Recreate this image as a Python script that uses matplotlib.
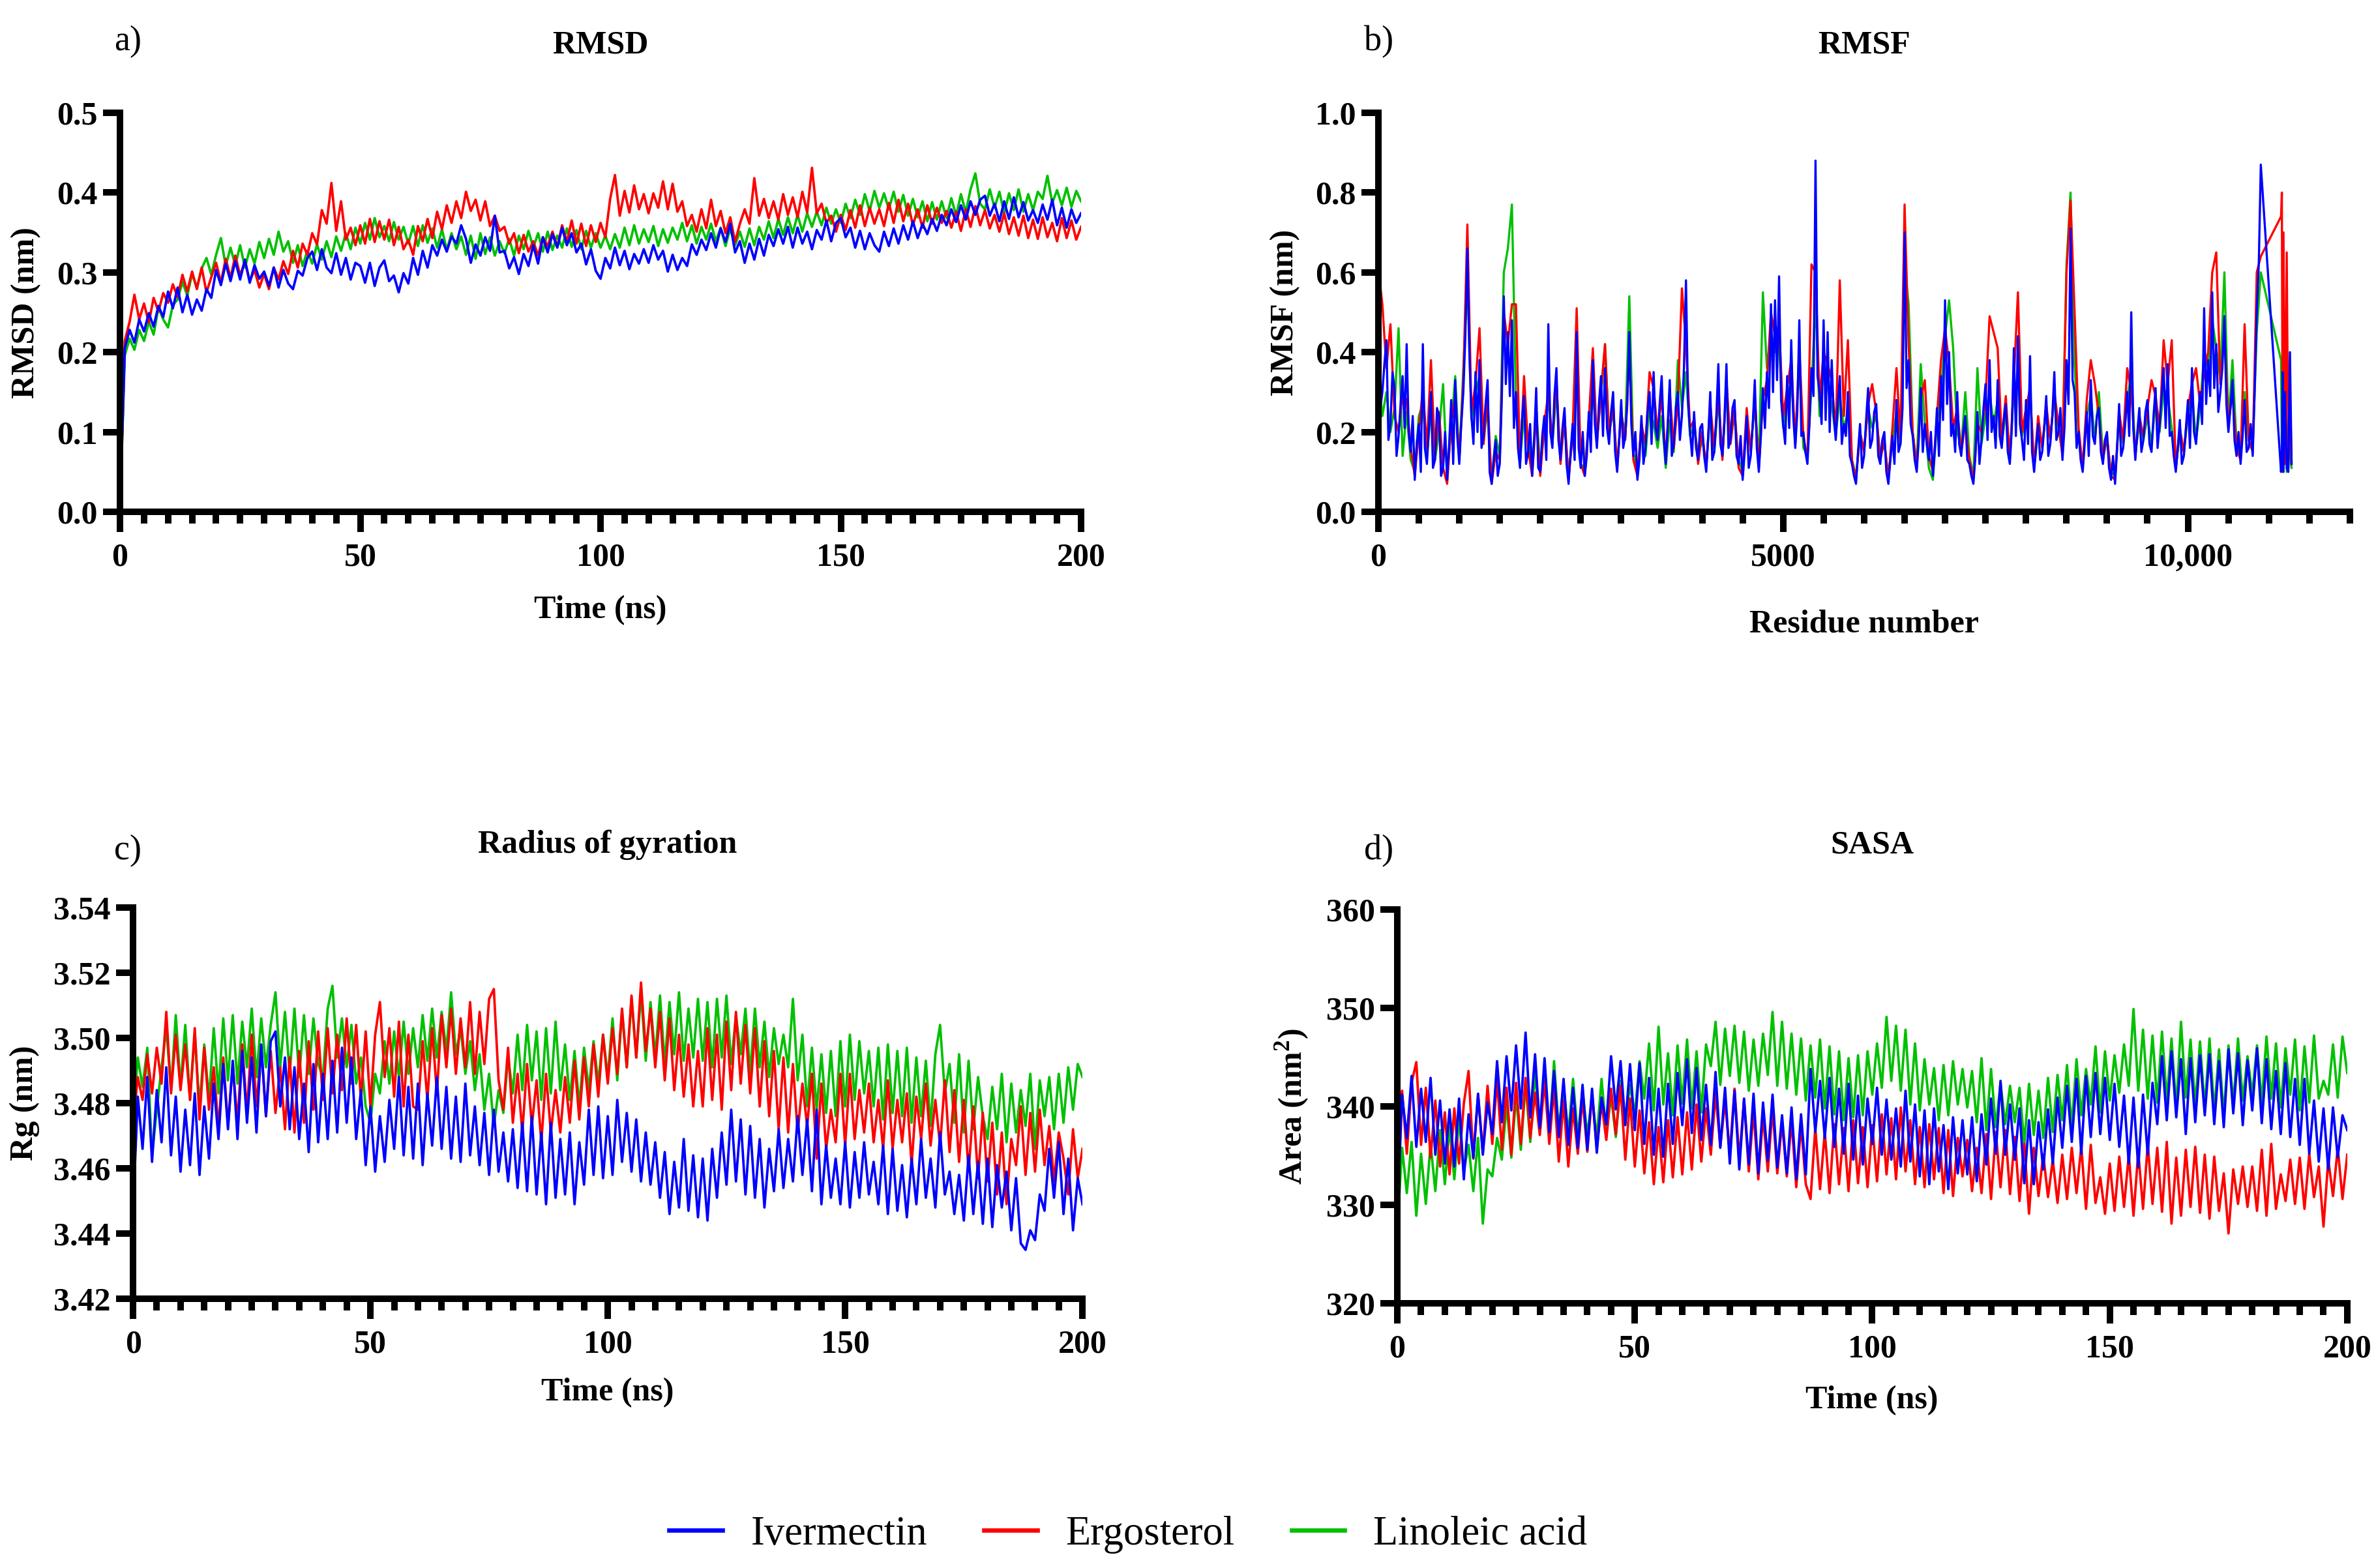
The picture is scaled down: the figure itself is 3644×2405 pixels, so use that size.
import numpy as np
import matplotlib.pyplot as plt
from matplotlib.lines import Line2D
from matplotlib.ticker import MultipleLocator, FixedLocator, FormatStrFormatter

plt.rcParams['font.family'] = ['Liberation Serif', 'DejaVu Serif']
plt.rcParams['font.weight'] = 'bold'
plt.rcParams['mathtext.fontset'] = 'custom'
plt.rcParams['mathtext.rm'] = 'Liberation Serif'
plt.rcParams['mathtext.bf'] = 'Liberation Serif:bold'

labels = ['Ivermectin', 'Ergosterol', 'Linoleic acid']
colors = ['#0000ff', '#ff0000', '#00c000']

# time axis, 1 ns sampling
time_ns = np.arange(0, 201)

# a) RMSD (nm)
rmsd_ivm = [0.000, 0.205, 0.228, 0.212, 0.241, 0.226, 0.249, 0.232, 0.258, 0.244,
            0.276, 0.255, 0.281, 0.250, 0.272, 0.247, 0.266, 0.252, 0.279, 0.268,
            0.303, 0.284, 0.311, 0.289, 0.314, 0.291, 0.316, 0.287, 0.309, 0.292,
            0.301, 0.283, 0.306, 0.281, 0.303, 0.286, 0.279, 0.302, 0.296, 0.318,
            0.326, 0.303, 0.329, 0.306, 0.299, 0.324, 0.297, 0.318, 0.291, 0.312,
            0.308, 0.287, 0.312, 0.283, 0.306, 0.315, 0.289, 0.296, 0.275, 0.299,
            0.286, 0.318, 0.297, 0.327, 0.306, 0.334, 0.321, 0.341, 0.326, 0.345,
            0.336, 0.359, 0.342, 0.312, 0.335, 0.321, 0.344, 0.327, 0.371, 0.325,
            0.327, 0.305, 0.319, 0.298, 0.323, 0.308, 0.334, 0.311, 0.344, 0.325,
            0.348, 0.331, 0.356, 0.334, 0.349, 0.325, 0.336, 0.310, 0.329, 0.302,
            0.292, 0.318, 0.305, 0.331, 0.309, 0.327, 0.304, 0.323, 0.311, 0.329,
            0.312, 0.334, 0.316, 0.327, 0.301, 0.322, 0.303, 0.318, 0.308, 0.335,
            0.322, 0.341, 0.328, 0.349, 0.331, 0.355, 0.338, 0.361, 0.325, 0.339,
            0.312, 0.336, 0.316, 0.342, 0.321, 0.347, 0.333, 0.354, 0.336, 0.357,
            0.331, 0.356, 0.336, 0.351, 0.329, 0.353, 0.341, 0.365, 0.339, 0.362,
            0.368, 0.344, 0.356, 0.331, 0.352, 0.329, 0.349, 0.334, 0.326, 0.351,
            0.333, 0.355, 0.336, 0.359, 0.341, 0.364, 0.343, 0.361, 0.348, 0.367,
            0.352, 0.372, 0.359, 0.379, 0.363, 0.384, 0.366, 0.389, 0.372, 0.391,
            0.396, 0.371, 0.386, 0.364, 0.389, 0.367, 0.394, 0.369, 0.388, 0.365,
            0.378, 0.362, 0.385, 0.366, 0.391, 0.359, 0.381, 0.356, 0.379, 0.362,
            0.374]
rmsd_erg = [0.000, 0.214, 0.238, 0.272, 0.241, 0.261, 0.237, 0.268, 0.251, 0.274,
            0.262, 0.285, 0.269, 0.297, 0.276, 0.301, 0.279, 0.306, 0.275, 0.294,
            0.312, 0.287, 0.317, 0.293, 0.321, 0.296, 0.314, 0.289, 0.303, 0.281,
            0.298, 0.279, 0.306, 0.291, 0.314, 0.298, 0.327, 0.306, 0.336, 0.322,
            0.349, 0.335, 0.378, 0.361, 0.412, 0.352, 0.389, 0.341, 0.356, 0.334,
            0.359, 0.336, 0.367, 0.338, 0.364, 0.341, 0.366, 0.334, 0.357, 0.329,
            0.341, 0.322, 0.358, 0.339, 0.367, 0.343, 0.376, 0.354, 0.384, 0.362,
            0.389, 0.368, 0.401, 0.377, 0.391, 0.365, 0.389, 0.358, 0.371, 0.352,
            0.357, 0.336, 0.349, 0.324, 0.347, 0.326, 0.339, 0.321, 0.344, 0.333,
            0.351, 0.332, 0.359, 0.338, 0.365, 0.336, 0.361, 0.333, 0.359, 0.338,
            0.362, 0.344, 0.392, 0.422, 0.371, 0.402, 0.375, 0.409, 0.379, 0.398,
            0.374, 0.399, 0.381, 0.414, 0.379, 0.411, 0.376, 0.389, 0.358, 0.372,
            0.351, 0.379, 0.355, 0.391, 0.358, 0.377, 0.349, 0.369, 0.338, 0.361,
            0.379, 0.361, 0.418, 0.371, 0.392, 0.368, 0.389, 0.366, 0.398, 0.372,
            0.394, 0.369, 0.401, 0.375, 0.431, 0.374, 0.386, 0.362, 0.371, 0.351,
            0.372, 0.353, 0.378, 0.356, 0.384, 0.358, 0.381, 0.361, 0.379, 0.358,
            0.387, 0.362, 0.391, 0.364, 0.386, 0.359, 0.379, 0.356, 0.384, 0.361,
            0.381, 0.362, 0.377, 0.356, 0.376, 0.352, 0.379, 0.357, 0.383, 0.359,
            0.378, 0.355, 0.372, 0.351, 0.374, 0.348, 0.369, 0.346, 0.371, 0.343,
            0.366, 0.342, 0.369, 0.344, 0.362, 0.339, 0.368, 0.343, 0.365, 0.341,
            0.357]
rmsd_lin = [0.000, 0.196, 0.217, 0.203, 0.228, 0.214, 0.238, 0.222, 0.256, 0.241,
            0.231, 0.259, 0.266, 0.288, 0.271, 0.298, 0.281, 0.305, 0.318, 0.297,
            0.322, 0.343, 0.308, 0.331, 0.309, 0.334, 0.306, 0.329, 0.311, 0.338,
            0.318, 0.342, 0.322, 0.351, 0.326, 0.339, 0.312, 0.334, 0.308, 0.327,
            0.311, 0.335, 0.316, 0.339, 0.319, 0.345, 0.327, 0.349, 0.329, 0.356,
            0.336, 0.362, 0.341, 0.368, 0.344, 0.358, 0.339, 0.363, 0.341, 0.357,
            0.336, 0.358, 0.333, 0.359, 0.337, 0.355, 0.331, 0.354, 0.328, 0.349,
            0.329, 0.345, 0.322, 0.346, 0.317, 0.349, 0.323, 0.344, 0.321, 0.339,
            0.324, 0.342, 0.321, 0.346, 0.329, 0.352, 0.331, 0.349, 0.326, 0.351,
            0.328, 0.346, 0.331, 0.355, 0.332, 0.353, 0.329, 0.352, 0.331, 0.349,
            0.331, 0.346, 0.329, 0.348, 0.331, 0.356, 0.334, 0.359, 0.336, 0.354,
            0.338, 0.358, 0.333, 0.354, 0.337, 0.356, 0.341, 0.362, 0.339, 0.359,
            0.336, 0.357, 0.341, 0.361, 0.339, 0.356, 0.333, 0.355, 0.334, 0.351,
            0.332, 0.355, 0.334, 0.357, 0.341, 0.364, 0.343, 0.367, 0.347, 0.369,
            0.349, 0.372, 0.351, 0.374, 0.357, 0.376, 0.359, 0.381, 0.361, 0.379,
            0.362, 0.386, 0.368, 0.391, 0.372, 0.398, 0.377, 0.402, 0.381, 0.399,
            0.379, 0.401, 0.376, 0.397, 0.371, 0.392, 0.369, 0.389, 0.364, 0.388,
            0.366, 0.389, 0.368, 0.393, 0.371, 0.398, 0.375, 0.404, 0.424, 0.386,
            0.379, 0.404, 0.381, 0.401, 0.374, 0.399, 0.378, 0.404, 0.376, 0.398,
            0.378, 0.401, 0.392, 0.421, 0.387, 0.403, 0.384, 0.406, 0.382, 0.402,
            0.389]

# c) radius of gyration (nm)
rg_ivm = [3.447, 3.482, 3.466, 3.488, 3.462, 3.484, 3.468, 3.491, 3.464, 3.482,
          3.459, 3.478, 3.461, 3.483, 3.458, 3.479, 3.463, 3.486, 3.469, 3.492,
          3.472, 3.493, 3.469, 3.496, 3.474, 3.494, 3.471, 3.498, 3.476, 3.499,
          3.502, 3.479, 3.494, 3.472, 3.491, 3.469, 3.486, 3.465, 3.492, 3.468,
          3.489, 3.469, 3.493, 3.471, 3.497, 3.474, 3.494, 3.469, 3.484, 3.461,
          3.479, 3.459, 3.476, 3.462, 3.481, 3.466, 3.488, 3.464, 3.485, 3.463,
          3.486, 3.461, 3.483, 3.467, 3.488, 3.466, 3.485, 3.463, 3.482, 3.462,
          3.486, 3.464, 3.479, 3.461, 3.477, 3.458, 3.478, 3.459, 3.471, 3.456,
          3.472, 3.454, 3.474, 3.453, 3.476, 3.452, 3.471, 3.449, 3.474, 3.451,
          3.469, 3.452, 3.471, 3.449, 3.468, 3.455, 3.478, 3.458, 3.479, 3.457,
          3.476, 3.458, 3.481, 3.462, 3.477, 3.459, 3.475, 3.456, 3.471, 3.455,
          3.468, 3.451, 3.465, 3.446, 3.462, 3.448, 3.469, 3.447, 3.464, 3.445,
          3.463, 3.444, 3.466, 3.451, 3.471, 3.455, 3.478, 3.456, 3.475, 3.452,
          3.473, 3.451, 3.469, 3.448, 3.466, 3.453, 3.472, 3.454, 3.469, 3.456,
          3.476, 3.458, 3.475, 3.453, 3.478, 3.449, 3.467, 3.451, 3.463, 3.449,
          3.468, 3.448, 3.465, 3.451, 3.468, 3.452, 3.462, 3.449, 3.467, 3.446,
          3.466, 3.447, 3.461, 3.445, 3.463, 3.449, 3.469, 3.451, 3.463, 3.448,
          3.471, 3.452, 3.459, 3.446, 3.458, 3.444, 3.464, 3.446, 3.462, 3.443,
          3.463, 3.442, 3.461, 3.448, 3.459, 3.441, 3.457, 3.437, 3.435, 3.441,
          3.438, 3.452, 3.447, 3.466, 3.451, 3.468, 3.446, 3.463, 3.441, 3.457,
          3.449]
rg_erg = [3.474, 3.488, 3.481, 3.495, 3.483, 3.497, 3.486, 3.508, 3.483, 3.501,
          3.484, 3.498, 3.481, 3.503, 3.475, 3.497, 3.478, 3.491, 3.472, 3.494,
          3.473, 3.492, 3.474, 3.498, 3.477, 3.501, 3.479, 3.497, 3.476, 3.496,
          3.477, 3.491, 3.472, 3.494, 3.471, 3.496, 3.474, 3.499, 3.478, 3.502,
          3.481, 3.503, 3.483, 3.501, 3.484, 3.506, 3.486, 3.504, 3.481, 3.502,
          3.479, 3.501, 3.511, 3.488, 3.503, 3.482, 3.505, 3.479, 3.501, 3.479,
          3.478, 3.499, 3.481, 3.503, 3.483, 3.507, 3.491, 3.509, 3.489, 3.506,
          3.491, 3.511, 3.489, 3.508, 3.492, 3.512, 3.515, 3.487, 3.478, 3.497,
          3.474, 3.489, 3.471, 3.492, 3.473, 3.487, 3.468, 3.489, 3.471, 3.484,
          3.471, 3.488, 3.474, 3.493, 3.475, 3.494, 3.479, 3.498, 3.482, 3.501,
          3.486, 3.503, 3.489, 3.509, 3.491, 3.513, 3.494, 3.517, 3.496, 3.509,
          3.491, 3.508, 3.487, 3.506, 3.484, 3.501, 3.482, 3.498, 3.479, 3.496,
          3.479, 3.503, 3.481, 3.501, 3.478, 3.505, 3.484, 3.508, 3.486, 3.504,
          3.483, 3.503, 3.479, 3.499, 3.476, 3.496, 3.472, 3.494, 3.471, 3.492,
          3.471, 3.486, 3.473, 3.489, 3.463, 3.486, 3.466, 3.478, 3.468, 3.489,
          3.467, 3.489, 3.469, 3.484, 3.471, 3.486, 3.468, 3.481, 3.466, 3.487,
          3.466, 3.481, 3.468, 3.483, 3.461, 3.482, 3.469, 3.486, 3.467, 3.481,
          3.467, 3.487, 3.465, 3.484, 3.462, 3.481, 3.459, 3.479, 3.457, 3.477,
          3.456, 3.474, 3.452, 3.471, 3.449, 3.469, 3.461, 3.479, 3.458, 3.477,
          3.459, 3.478, 3.461, 3.473, 3.456, 3.471, 3.463, 3.452, 3.472, 3.457,
          3.466]
rg_lin = [3.476, 3.494, 3.485, 3.497, 3.464, 3.478, 3.491, 3.503, 3.484, 3.507,
          3.485, 3.504, 3.481, 3.501, 3.479, 3.498, 3.481, 3.503, 3.483, 3.506,
          3.487, 3.507, 3.486, 3.505, 3.491, 3.509, 3.488, 3.506, 3.491, 3.504,
          3.514, 3.491, 3.508, 3.489, 3.509, 3.488, 3.507, 3.489, 3.506, 3.492,
          3.488, 3.509, 3.516, 3.494, 3.506, 3.491, 3.504, 3.486, 3.494, 3.479,
          3.474, 3.489, 3.483, 3.499, 3.486, 3.502, 3.488, 3.505, 3.489, 3.503,
          3.491, 3.507, 3.493, 3.509, 3.494, 3.508, 3.496, 3.514, 3.495, 3.503,
          3.489, 3.499, 3.484, 3.495, 3.478, 3.489, 3.473, 3.484, 3.477, 3.494,
          3.483, 3.501, 3.484, 3.504, 3.487, 3.502, 3.481, 3.503, 3.483, 3.505,
          3.484, 3.498, 3.481, 3.496, 3.479, 3.497, 3.484, 3.499, 3.486, 3.501,
          3.488, 3.506, 3.487, 3.508, 3.491, 3.512, 3.494, 3.514, 3.493, 3.511,
          3.494, 3.513, 3.492, 3.511, 3.495, 3.514, 3.493, 3.509, 3.494, 3.512,
          3.493, 3.511, 3.491, 3.512, 3.494, 3.513, 3.492, 3.507, 3.495, 3.509,
          3.489, 3.509, 3.491, 3.505, 3.488, 3.503, 3.492, 3.501, 3.491, 3.512,
          3.487, 3.501, 3.479, 3.497, 3.478, 3.495, 3.477, 3.496, 3.476, 3.499,
          3.479, 3.501, 3.481, 3.499, 3.483, 3.496, 3.479, 3.497, 3.475, 3.498,
          3.477, 3.496, 3.476, 3.497, 3.474, 3.494, 3.476, 3.493, 3.473, 3.495,
          3.504, 3.483, 3.492, 3.474, 3.495, 3.471, 3.493, 3.472, 3.488, 3.476,
          3.469, 3.485, 3.472, 3.489, 3.468, 3.486, 3.471, 3.484, 3.473, 3.489,
          3.466, 3.487, 3.476, 3.488, 3.472, 3.489, 3.474, 3.491, 3.478, 3.492,
          3.488]

# d) SASA (nm^2)
sasa_ivm = [328.5, 341.2, 336.8, 343.1, 335.9, 341.8, 336.4, 342.9, 335.1, 340.6,
            334.2, 339.7, 333.9, 340.8, 332.6, 339.2, 334.8, 341.3, 335.1, 340.4,
            337.2, 344.6, 338.4, 345.1, 339.6, 346.2, 339.8, 347.5, 338.9, 345.3,
            337.8, 344.9, 337.4, 343.6, 336.9, 342.8, 336.1, 341.9, 335.8, 342.2,
            335.6, 341.8, 335.3, 340.9, 338.2, 345.1, 339.7, 344.6, 338.1, 344.3,
            337.6, 344.4, 336.2, 342.9, 335.1, 341.8, 334.9, 342.3, 336.2, 343.4,
            338.1, 344.8, 337.3, 343.9, 336.6, 342.2, 336.1, 343.5, 335.8, 341.9,
            334.2, 341.6, 333.6, 340.8, 334.1, 341.3, 333.2, 340.4, 334.5, 341.2,
            333.8, 339.1, 333.2, 339.9, 332.6, 339.2, 333.1, 343.8, 337.4, 342.6,
            336.8, 342.9, 335.9, 341.8, 335.2, 342.3, 334.6, 341.1, 334.1, 340.8,
            336.2, 341.9, 335.1, 340.7, 334.6, 339.8, 333.9, 341.6, 334.4, 340.2,
            332.9, 339.6, 332.1, 339.8, 333.4, 338.1, 331.6, 338.9, 333.2, 338.6,
            333.1, 338.9, 332.4, 339.2, 334.1, 340.8, 335.2, 342.6, 335.1, 340.2,
            334.6, 339.8, 332.2, 338.6, 332.1, 338.4, 333.6, 339.7, 334.2, 340.9,
            335.8, 342.1, 336.4, 342.8, 335.2, 343.1, 336.9, 343.4, 337.2, 342.9,
            336.6, 342.3, 335.9, 341.1, 334.2, 340.9, 333.8, 341.2, 335.1, 342.4,
            338.2, 345.1, 338.6, 345.6, 338.9, 344.8, 337.2, 344.9, 338.4, 345.2,
            339.1, 345.3, 338.2, 344.6, 337.9, 345.8, 339.3, 345.4, 338.1, 344.7,
            339.6, 345.9, 338.3, 344.8, 337.7, 343.6, 337.2, 344.4, 336.9, 342.8,
            336.1, 342.8, 335.2, 340.6, 334.4, 339.8, 333.6, 339.9, 334.8, 339.1,
            337.6]
sasa_erg = [337.5, 341.6, 335.2, 342.4, 344.5, 336.1, 341.9, 334.8, 340.6, 333.9,
            339.4, 333.1, 339.8, 334.2, 340.3, 343.6, 334.7, 341.2, 335.3, 342.1,
            336.2, 342.8, 335.6, 341.9, 335.1, 342.4, 336.2, 342.9, 336.8, 341.4,
            337.1, 342.6, 336.2, 341.9, 334.4, 340.6, 333.9, 339.8, 335.2, 340.9,
            335.4, 341.2, 335.8, 340.4, 336.6, 341.8, 337.2, 342.1, 334.6, 340.8,
            333.9, 339.6, 333.2, 338.4, 332.1, 337.9, 332.3, 338.6, 332.8, 338.9,
            333.1, 339.4, 333.6, 340.2, 334.4, 339.8, 335.1, 341.3, 335.9, 340.6,
            335.2, 341.8, 334.6, 340.7, 333.4, 339.6, 332.6, 339.1, 333.4, 339.8,
            333.2, 338.4, 332.9, 338.6, 331.8, 338.2, 332.1, 330.6, 337.8, 331.6,
            337.4, 331.2, 338.2, 332.1, 337.8, 331.4, 338.6, 332.2, 337.9, 331.8,
            338.1, 332.4, 339.2, 333.1, 338.8, 332.6, 339.9, 333.4, 338.6, 332.1,
            337.9, 331.8, 338.2, 332.6, 337.8, 331.2, 337.6, 330.9, 336.8, 332.9,
            336.6, 331.4, 335.8, 331.2, 337.2, 330.6, 337.4, 331.8, 337.6, 331.1,
            336.9, 330.4, 336.2, 329.1, 335.8, 330.9, 335.1, 330.8, 334.6, 330.2,
            335.1, 330.6, 335.8, 331.2, 335.9, 329.6, 336.1, 330.2, 332.8, 329.1,
            334.2, 329.4, 334.9, 329.8, 335.1, 328.9, 335.4, 329.6, 336.2, 330.1,
            335.8, 329.3, 336.4, 328.1, 334.8, 328.9, 335.6, 329.8, 335.9, 329.2,
            335.1, 328.6, 334.9, 329.4, 333.2, 327.1, 333.6, 330.1, 333.9, 329.8,
            333.9, 329.4, 335.6, 328.9, 336.2, 329.6, 333.1, 330.4, 334.6, 330.1,
            334.8, 329.6, 335.2, 330.8, 333.9, 327.8, 334.6, 330.9, 335.8, 330.6,
            335.1]
sasa_lin = [327.5, 335.8, 331.2, 336.4, 328.9, 335.2, 330.1, 336.2, 331.4, 337.6,
            332.1, 337.9, 332.6, 338.8, 333.4, 336.1, 331.4, 336.8, 328.1, 333.6,
            332.9, 336.8, 334.6, 340.2, 334.8, 341.1, 335.6, 342.3, 336.4, 343.6,
            337.8, 343.2, 336.9, 344.6, 337.6, 342.1, 337.2, 342.8, 336.9, 341.6,
            337.1, 340.9, 336.8, 342.8, 337.2, 341.1, 336.9, 342.6, 338.4, 342.2,
            339.2, 344.6, 340.8, 346.4, 339.6, 348.1, 340.2, 345.4, 339.1, 346.2,
            340.3, 346.8, 339.8, 345.6, 339.4, 346.3, 344.1, 348.6, 342.2, 347.9,
            343.1, 348.2, 342.4, 347.6, 341.6, 346.8, 342.1, 347.4, 343.2, 349.6,
            342.1, 348.6, 341.8, 347.4, 341.2, 346.9, 340.6, 346.2, 340.9, 346.8,
            339.8, 346.1, 339.2, 345.6, 338.6, 344.9, 338.9, 345.2, 339.1, 345.6,
            341.2, 346.4, 341.9, 349.1, 342.6, 348.2, 341.6, 347.8, 340.2, 346.4,
            339.6, 344.8, 340.2, 343.9, 338.6, 344.2, 339.1, 344.6, 340.2, 343.8,
            339.9, 343.6, 338.4, 344.9, 337.6, 343.8, 337.9, 342.4, 338.2, 342.1,
            338.4, 341.9, 336.2, 342.3, 337.1, 341.6, 336.8, 342.9, 337.4, 343.2,
            338.6, 344.2, 337.9, 344.8, 339.1, 343.8, 340.2, 346.1, 339.4, 345.6,
            340.6, 345.2, 341.4, 346.3, 342.1, 349.9, 341.6, 347.8, 340.8, 347.2,
            340.4, 347.6, 340.6, 346.9, 339.8, 348.6, 340.9, 346.8, 340.1, 346.6,
            339.8, 346.9, 339.4, 345.8, 339.1, 346.2, 340.2, 346.9, 340.6, 345.1,
            341.2, 346.2, 340.4, 347.1, 340.8, 346.4, 339.9, 345.9, 341.2, 346.8,
            339.6, 346.1, 340.4, 347.2, 340.8, 342.6, 341.2, 346.3, 340.9, 347.1,
            343.4]

# b) RMSF (nm); the C-terminal segment sits after a gap in numbering
rmsf_tail_res = [11150, 11160, 11170, 11180, 11200, 11220, 11240, 11260, 11280]
rmsf_res = np.concatenate([np.arange(0, 10901, 50), rmsf_tail_res])
rmsf_res_ivm = np.concatenate([np.arange(0, 10901, 25), rmsf_tail_res])
rmsf_ivm = [0.50, 0.26, 0.30, 0.37, 0.43, 0.18, 0.22, 0.35, 0.31, 0.14, 0.19, 0.27, 0.34, 0.21, 0.42, 0.20, 0.15, 0.24, 0.08, 0.17,
            0.22, 0.10, 0.42, 0.16, 0.12, 0.21, 0.30, 0.11, 0.13, 0.26, 0.24, 0.09, 0.11, 0.20, 0.08, 0.17, 0.28, 0.12, 0.33, 0.19,
            0.12, 0.22, 0.30, 0.44, 0.66, 0.40, 0.24, 0.17, 0.35, 0.20, 0.38, 0.16, 0.19, 0.27, 0.33, 0.10, 0.07, 0.13, 0.18, 0.09,
            0.12, 0.28, 0.54, 0.32, 0.45, 0.29, 0.48, 0.21, 0.30, 0.16, 0.11, 0.23, 0.29, 0.12, 0.15, 0.22, 0.09, 0.18, 0.31, 0.11,
            0.10, 0.19, 0.24, 0.13, 0.47, 0.20, 0.16, 0.29, 0.36, 0.18, 0.13, 0.21, 0.26, 0.12, 0.07, 0.15, 0.22, 0.13, 0.45, 0.16,
            0.11, 0.20, 0.09, 0.14, 0.25, 0.15, 0.38, 0.22, 0.16, 0.27, 0.34, 0.19, 0.36, 0.21, 0.17, 0.25, 0.30, 0.15, 0.10, 0.18,
            0.28, 0.16, 0.19, 0.27, 0.45, 0.22, 0.14, 0.20, 0.08, 0.13, 0.24, 0.12, 0.16, 0.25, 0.30, 0.17, 0.35, 0.21, 0.18, 0.27,
            0.34, 0.19, 0.12, 0.22, 0.33, 0.14, 0.17, 0.26, 0.30, 0.18, 0.24, 0.36, 0.58, 0.28, 0.20, 0.14, 0.25, 0.16, 0.13, 0.21,
            0.22, 0.14, 0.10, 0.19, 0.30, 0.13, 0.15, 0.24, 0.37, 0.17, 0.14, 0.23, 0.37, 0.16, 0.18, 0.26, 0.28, 0.14, 0.12, 0.19,
            0.08, 0.15, 0.24, 0.11, 0.14, 0.22, 0.33, 0.16, 0.10, 0.19, 0.31, 0.21, 0.35, 0.26, 0.52, 0.30, 0.53, 0.33, 0.59, 0.28,
            0.22, 0.17, 0.34, 0.21, 0.43, 0.24, 0.16, 0.25, 0.48, 0.19, 0.20, 0.15, 0.12, 0.22, 0.36, 0.29, 0.88, 0.34, 0.30, 0.22,
            0.48, 0.23, 0.45, 0.20, 0.38, 0.24, 0.18, 0.27, 0.34, 0.17, 0.22, 0.19, 0.30, 0.14, 0.12, 0.09, 0.07, 0.15, 0.22, 0.11,
            0.14, 0.23, 0.31, 0.16, 0.18, 0.25, 0.27, 0.14, 0.12, 0.18, 0.20, 0.10, 0.07, 0.13, 0.19, 0.12, 0.28, 0.15, 0.17, 0.26,
            0.70, 0.31, 0.38, 0.22, 0.19, 0.13, 0.10, 0.18, 0.31, 0.15, 0.22, 0.17, 0.13, 0.20, 0.09, 0.16, 0.26, 0.14, 0.34, 0.23,
            0.53, 0.27, 0.40, 0.19, 0.22, 0.15, 0.30, 0.17, 0.14, 0.20, 0.24, 0.13, 0.12, 0.09, 0.07, 0.14, 0.25, 0.12, 0.18, 0.26,
            0.32, 0.18, 0.38, 0.20, 0.24, 0.16, 0.33, 0.19, 0.16, 0.23, 0.27, 0.15, 0.12, 0.21, 0.41, 0.19, 0.44, 0.22, 0.18, 0.13,
            0.28, 0.17, 0.39, 0.15, 0.10, 0.16, 0.22, 0.13, 0.15, 0.21, 0.29, 0.14, 0.17, 0.24, 0.35, 0.18, 0.20, 0.26, 0.13, 0.21,
            0.38, 0.27, 0.71, 0.33, 0.30, 0.16, 0.20, 0.13, 0.10, 0.17, 0.25, 0.14, 0.33, 0.19, 0.17, 0.24, 0.26, 0.15, 0.12, 0.18,
            0.20, 0.11, 0.08, 0.14, 0.07, 0.16, 0.27, 0.14, 0.16, 0.22, 0.30, 0.19, 0.50, 0.21, 0.13, 0.20, 0.26, 0.15, 0.18, 0.25,
            0.28, 0.17, 0.15, 0.24, 0.31, 0.16, 0.22, 0.29, 0.36, 0.21, 0.37, 0.19, 0.20, 0.14, 0.10, 0.16, 0.23, 0.12, 0.14, 0.21,
            0.28, 0.16, 0.36, 0.20, 0.17, 0.24, 0.30, 0.22, 0.51, 0.27, 0.38, 0.29, 0.55, 0.31, 0.42, 0.25, 0.30, 0.36, 0.49, 0.27,
            0.20, 0.26, 0.33, 0.18, 0.14, 0.20, 0.12, 0.19, 0.28, 0.15, 0.16, 0.22, 0.14, 0.31, 0.50, 0.62, 0.87,
            0.10, 0.14, 0.35, 0.10, 0.30, 0.11, 0.10, 0.40, 0.12]
rmsf_erg = [0.61, 0.52, 0.36, 0.47, 0.24, 0.20, 0.30, 0.28, 0.16, 0.09,
            0.20, 0.31, 0.16, 0.38, 0.14, 0.25, 0.11, 0.07, 0.22, 0.29,
            0.13, 0.33, 0.72, 0.25, 0.32, 0.46, 0.17, 0.28, 0.07, 0.15,
            0.13, 0.50, 0.42, 0.52, 0.52, 0.12, 0.34, 0.16, 0.09, 0.24,
            0.09, 0.22, 0.30, 0.18, 0.33, 0.12, 0.24, 0.08, 0.20, 0.51,
            0.12, 0.09, 0.23, 0.41, 0.17, 0.30, 0.42, 0.19, 0.27, 0.11,
            0.25, 0.18, 0.40, 0.13, 0.09, 0.22, 0.17, 0.35, 0.31, 0.20,
            0.29, 0.13, 0.30, 0.16, 0.28, 0.56, 0.42, 0.21, 0.23, 0.12,
            0.20, 0.11, 0.27, 0.16, 0.30, 0.13, 0.33, 0.17, 0.26, 0.11,
            0.09, 0.26, 0.15, 0.29, 0.11, 0.28, 0.33, 0.50, 0.44, 0.47,
            0.24, 0.31, 0.38, 0.17, 0.41, 0.19, 0.13, 0.62, 0.60, 0.28,
            0.40, 0.37, 0.33, 0.20, 0.58, 0.24, 0.43, 0.13, 0.08, 0.20,
            0.15, 0.27, 0.32, 0.25, 0.13, 0.18, 0.08, 0.21, 0.36, 0.18,
            0.77, 0.42, 0.20, 0.11, 0.28, 0.33, 0.14, 0.10, 0.24, 0.38,
            0.46, 0.37, 0.21, 0.26, 0.15, 0.22, 0.13, 0.08, 0.22, 0.20,
            0.28, 0.49, 0.45, 0.41, 0.18, 0.29, 0.13, 0.33, 0.55, 0.20,
            0.26, 0.31, 0.11, 0.24, 0.16, 0.27, 0.18, 0.30, 0.22, 0.14,
            0.60, 0.78, 0.50, 0.21, 0.11, 0.28, 0.38, 0.32, 0.24, 0.13,
            0.19, 0.09, 0.08, 0.25, 0.18, 0.36, 0.30, 0.14, 0.24, 0.19,
            0.26, 0.33, 0.29, 0.21, 0.43, 0.32, 0.43, 0.11, 0.21, 0.15,
            0.26, 0.32, 0.36, 0.27, 0.35, 0.40, 0.60, 0.65, 0.32, 0.45,
            0.22, 0.30, 0.16, 0.13, 0.47, 0.18, 0.15, 0.60, 0.64,
            0.74, 0.80, 0.10, 0.70, 0.12, 0.65, 0.11, 0.30, 0.12]
rmsf_lin = [0.35, 0.24, 0.30, 0.20, 0.26, 0.46, 0.14, 0.25, 0.13, 0.10,
            0.24, 0.27, 0.14, 0.25, 0.13, 0.20, 0.32, 0.09, 0.21, 0.34,
            0.13, 0.36, 0.58, 0.23, 0.30, 0.34, 0.21, 0.24, 0.08, 0.19,
            0.14, 0.60, 0.66, 0.77, 0.28, 0.12, 0.25, 0.18, 0.11, 0.26,
            0.11, 0.20, 0.28, 0.17, 0.30, 0.14, 0.22, 0.09, 0.19, 0.36,
            0.12, 0.11, 0.22, 0.30, 0.18, 0.29, 0.42, 0.20, 0.25, 0.12,
            0.24, 0.20, 0.54, 0.15, 0.10, 0.21, 0.14, 0.27, 0.22, 0.16,
            0.24, 0.11, 0.23, 0.15, 0.38, 0.26, 0.35, 0.19, 0.22, 0.14,
            0.18, 0.12, 0.24, 0.15, 0.28, 0.14, 0.30, 0.18, 0.24, 0.13,
            0.10, 0.22, 0.16, 0.27, 0.12, 0.55, 0.36, 0.45, 0.40, 0.42,
            0.21, 0.28, 0.33, 0.18, 0.37, 0.16, 0.14, 0.31, 0.53, 0.24,
            0.36, 0.31, 0.27, 0.19, 0.29, 0.21, 0.25, 0.13, 0.09, 0.19,
            0.16, 0.26, 0.21, 0.24, 0.14, 0.17, 0.09, 0.18, 0.25, 0.17,
            0.62, 0.52, 0.20, 0.12, 0.37, 0.22, 0.11, 0.08, 0.22, 0.30,
            0.44, 0.53, 0.41, 0.20, 0.16, 0.30, 0.14, 0.09, 0.36, 0.17,
            0.24, 0.30, 0.22, 0.28, 0.17, 0.25, 0.14, 0.30, 0.34, 0.19,
            0.24, 0.29, 0.12, 0.20, 0.17, 0.25, 0.19, 0.28, 0.21, 0.15,
            0.62, 0.80, 0.37, 0.19, 0.12, 0.24, 0.29, 0.18, 0.30, 0.14,
            0.18, 0.10, 0.09, 0.23, 0.17, 0.28, 0.35, 0.15, 0.22, 0.18,
            0.24, 0.17, 0.27, 0.20, 0.31, 0.29, 0.21, 0.11, 0.20, 0.15,
            0.24, 0.30, 0.18, 0.26, 0.40, 0.36, 0.48, 0.41, 0.33, 0.60,
            0.22, 0.38, 0.17, 0.13, 0.30, 0.18, 0.16, 0.45, 0.60,
            0.38, 0.16, 0.32, 0.12, 0.28, 0.10, 0.25, 0.14, 0.11]

fig = plt.figure(figsize=(3644 / 300, 2405 / 300), dpi=300)

ax_a = fig.add_axes([0.0505, 0.6736, 0.4045, 0.2545])
ax_b = fig.add_axes([0.5801, 0.6736, 0.4089, 0.2545])
ax_c = fig.add_axes([0.0560, 0.1717, 0.3996, 0.2495])
ax_d = fig.add_axes([0.5881, 0.1688, 0.3998, 0.2511])


def draw(ax, xs, series, lw):
    # green first, blue last (on top)
    for i in [2, 1, 0]:
        ax.plot(xs[i], series[i], color=colors[i], lw=lw)


def style(ax, xmax, xmajor, xminor, ylo, yhi, ystep, yfmt):
    for s in ['top', 'right']:
        ax.spines[s].set_visible(False)
    for s in ['left', 'bottom']:
        ax.spines[s].set_linewidth(2.4)
    ax.set_xlim(0, xmax)
    ax.set_ylim(ylo, yhi)
    ax.xaxis.set_major_locator(MultipleLocator(xmajor))
    ax.xaxis.set_minor_locator(MultipleLocator(xminor))
    ax.yaxis.set_major_locator(FixedLocator(np.linspace(ylo, yhi, int(round((yhi - ylo) / ystep)) + 1)))
    ax.yaxis.set_major_formatter(FormatStrFormatter(yfmt))
    ax.tick_params(axis='x', which='major', length=7.5, width=2.4, labelsize=12, pad=4)
    ax.tick_params(axis='x', which='minor', length=4.3, width=2.4)
    ax.tick_params(axis='y', which='major', length=6.3, width=2.4, labelsize=12, pad=2)


t3 = [time_ns] * 3
draw(ax_a, t3, [rmsd_ivm, rmsd_erg, rmsd_lin], 0.9)
style(ax_a, 200, 50, 5, 0.0, 0.5, 0.1, '%.1f')

draw(ax_b, [rmsf_res_ivm, rmsf_res, rmsf_res], [rmsf_ivm, rmsf_erg, rmsf_lin], 0.8)
style(ax_b, 12000, 5000, 500, 0.0, 1.0, 0.2, '%.1f')
ax_b.xaxis.set_major_locator(FixedLocator([0, 5000, 10000]))
ax_b.set_xticklabels(['0', '5000', '10,000'])

draw(ax_c, t3, [rg_ivm, rg_erg, rg_lin], 0.9)
style(ax_c, 200, 50, 5, 3.42, 3.54, 0.02, '%.2f')

draw(ax_d, t3, [sasa_ivm, sasa_erg, sasa_lin], 0.9)
style(ax_d, 200, 50, 5, 320, 360, 10, '%d')

# panel letters, titles, axis labels
for x, y, t in [(0.0538, 0.9734, 'a)'), (0.5804, 0.9734, 'b)'),
                (0.0538, 0.4574, 'c)'), (0.5804, 0.4574, 'd)')]:
    fig.text(x, y, t, ha='center', va='center', fontsize=13, fontweight='normal')

for x, y, t in [(0.2527, 0.9709, 'RMSD'), (0.7846, 0.9709, 'RMSF'),
                (0.2558, 0.4611, 'Radius of gyration'), (0.7879, 0.4611, 'SASA')]:
    fig.text(x, y, t, ha='center', va='center', fontsize=12)

for x, y, t in [(0.2527, 0.6108, 'Time (ns)'), (0.7846, 0.6017, 'Residue number'),
                (0.2558, 0.1119, 'Time (ns)'), (0.7879, 0.1069, 'Time (ns)')]:
    fig.text(x, y, t, ha='center', va='center', fontsize=12)

for x, y, t in [(0.0110, 0.8008, 'RMSD (nm)'), (0.5409, 0.8008, 'RMSF (nm)'),
                (0.0104, 0.2965, 'Rg (nm)'), (0.5439, 0.2944, r'Area (nm$^{\mathbf{2}}$)')]:
    fig.text(x, y, t, ha='center', va='center', rotation=90, fontsize=12)

handles = [Line2D([0], [0], color=c, lw=1.6) for c in colors]
fig.legend(handles, labels, loc='center', bbox_to_anchor=(0.4748, 0.0212), ncol=3,
           frameon=False, prop={'size': 15, 'weight': 'normal'},
           handlelength=1.3, handletextpad=0.7, columnspacing=1.4)

fig.savefig('out.png', dpi=300)
